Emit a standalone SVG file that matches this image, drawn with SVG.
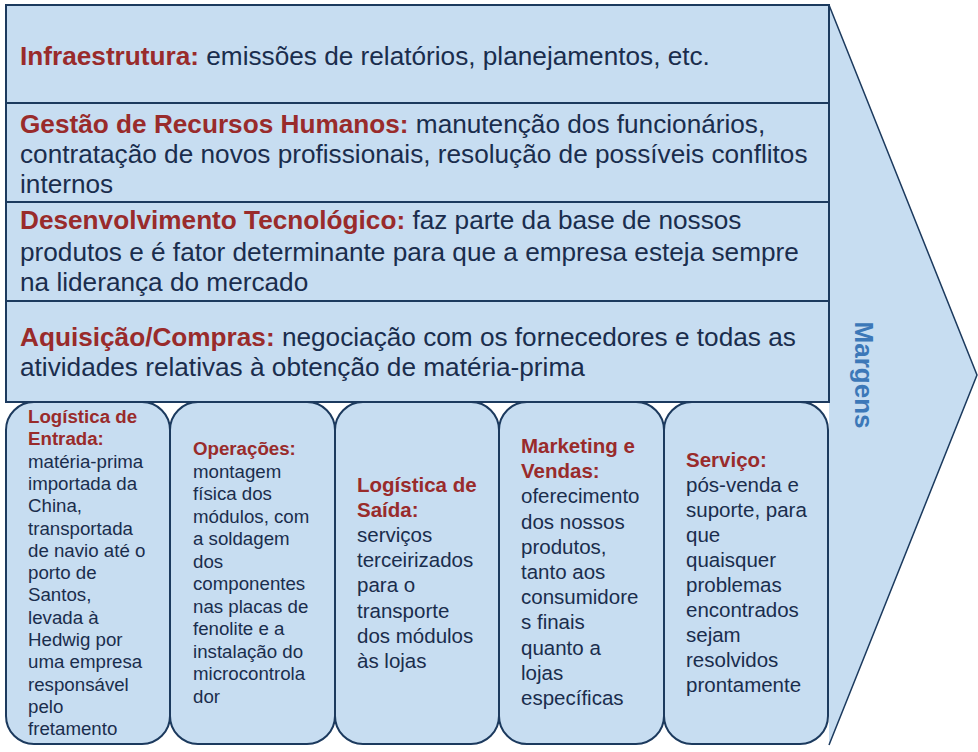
<svg xmlns="http://www.w3.org/2000/svg" width="978" height="752" viewBox="0 0 978 752">
<style>
.box{fill:#c7ddf1;stroke:#1c3a5e;stroke-width:2}
.top{font-family:"Liberation Sans",Arial,sans-serif;font-size:26.2px;fill:#1a2d4d}
.b1{font-family:"Liberation Sans",Arial,sans-serif;font-size:18.7px;fill:#1a2d4d}
.b2{font-family:"Liberation Sans",Arial,sans-serif;font-size:20.5px;fill:#1a2d4d}
.h{font-weight:bold;fill:#992b2b}
.mg{font-family:"Liberation Sans",Arial,sans-serif;font-size:26px;font-weight:bold;fill:#3c78b8}
</style>
<rect width="978" height="752" fill="#ffffff"/>
<g id="arrow">
<polygon points="829,5 977,375 829,745" fill="#c7ddf1" stroke="none"/>
<polyline points="829,5 977,375 829,745" fill="none" stroke="#1c3a5e" stroke-width="1.5"/>
<text class="mg" transform="translate(855,375) rotate(90)" text-anchor="middle">Margens</text>
</g>
<g id="infraestrutura">
<rect class="box" x="6" y="5" width="823" height="98"/>
<text class="top" x="20" y="65"><tspan class="h">Infraestrutura:</tspan> emissões de relatórios, planejamentos, etc.</text>
</g>
<g id="rh">
<rect class="box" x="6" y="103" width="823" height="99"/>
<text class="top" x="20" y="133"><tspan class="h">Gestão de Recursos Humanos:</tspan> manutenção dos funcionários,</text>
<text class="top" x="20" y="163">contratação de novos profissionais, resolução de possíveis conflitos</text>
<text class="top" x="20" y="193">internos</text>
</g>
<g id="tecnologia">
<rect class="box" x="6" y="202" width="823" height="99"/>
<text class="top" x="20" y="229"><tspan class="h">Desenvolvimento Tecnológico:</tspan> faz parte da base de nossos</text>
<text class="top" x="20" y="261">produtos e é fator determinante para que a empresa esteja sempre</text>
<text class="top" x="20" y="291">na liderança do mercado</text>
</g>
<g id="aquisicao">
<rect class="box" x="6" y="301" width="823" height="101"/>
<text class="top" x="20" y="346"><tspan class="h">Aquisição/Compras:</tspan> negociação com os fornecedores e todas as</text>
<text class="top" x="20" y="376">atividades relativas à obtenção de matéria-prima</text>
</g>
<g id="logistica-entrada">
<rect class="box" x="6" y="402" width="164" height="342" rx="28"/>
<text class="b1" x="28" y="423">
<tspan class="h" x="28">Logística de</tspan>
<tspan class="h" x="28" dy="22.3">Entrada:</tspan>
<tspan x="28" dy="22.3">matéria-prima</tspan>
<tspan x="28" dy="22.3">importada da</tspan>
<tspan x="28" dy="22.3">China,</tspan>
<tspan x="28" dy="22.3">transportada</tspan>
<tspan x="28" dy="22.3">de navio até o</tspan>
<tspan x="28" dy="22.3">porto de</tspan>
<tspan x="28" dy="22.3">Santos,</tspan>
<tspan x="28" dy="22.3">levada à</tspan>
<tspan x="28" dy="22.3">Hedwig por</tspan>
<tspan x="28" dy="22.3">uma empresa</tspan>
<tspan x="28" dy="22.3">responsável</tspan>
<tspan x="28" dy="22.3">pelo</tspan>
<tspan x="28" dy="22.3">fretamento</tspan>
</text>
</g>
<g id="operacoes">
<rect class="box" x="170" y="402" width="165" height="342" rx="28"/>
<text class="b1" x="193" y="455">
<tspan class="h" x="193">Operações:</tspan>
<tspan x="193" dy="22.5">montagem</tspan>
<tspan x="193" dy="22.5">física dos</tspan>
<tspan x="193" dy="22.5">módulos, com</tspan>
<tspan x="193" dy="22.5">a soldagem</tspan>
<tspan x="193" dy="22.5">dos</tspan>
<tspan x="193" dy="22.5">componentes</tspan>
<tspan x="193" dy="22.5">nas placas de</tspan>
<tspan x="193" dy="22.5">fenolite e a</tspan>
<tspan x="193" dy="22.5">instalação do</tspan>
<tspan x="193" dy="22.5">microcontrola</tspan>
<tspan x="193" dy="22.5">dor</tspan>
</text>
</g>
<g id="logistica-saida">
<rect class="box" x="335" y="402" width="164" height="342" rx="28"/>
<text class="b2" x="357" y="492">
<tspan class="h" x="357">Logística de</tspan>
<tspan class="h" x="357" dy="25.1">Saída:</tspan>
<tspan x="357" dy="25.1">serviços</tspan>
<tspan x="357" dy="25.1">terceirizados</tspan>
<tspan x="357" dy="25.1">para o</tspan>
<tspan x="357" dy="25.1">transporte</tspan>
<tspan x="357" dy="25.1">dos módulos</tspan>
<tspan x="357" dy="25.1">às lojas</tspan>
</text>
</g>
<g id="marketing">
<rect class="box" x="499" y="402" width="165" height="342" rx="28"/>
<text class="b2" x="521" y="453">
<tspan class="h" x="521">Marketing e</tspan>
<tspan class="h" x="521" dy="25.2">Vendas:</tspan>
<tspan x="521" dy="25.2">oferecimento</tspan>
<tspan x="521" dy="25.2">dos nossos</tspan>
<tspan x="521" dy="25.2">produtos,</tspan>
<tspan x="521" dy="25.2">tanto aos</tspan>
<tspan x="521" dy="25.2">consumidore</tspan>
<tspan x="521" dy="25.2">s finais</tspan>
<tspan x="521" dy="25.2">quanto a</tspan>
<tspan x="521" dy="25.2">lojas</tspan>
<tspan x="521" dy="25.2">específicas</tspan>
</text>
</g>
<g id="servico">
<rect class="box" x="664" y="402" width="164" height="342" rx="28"/>
<text class="b2" x="686" y="467">
<tspan class="h" x="686">Serviço:</tspan>
<tspan x="686" dy="25">pós-venda e</tspan>
<tspan x="686" dy="25">suporte, para</tspan>
<tspan x="686" dy="25">que</tspan>
<tspan x="686" dy="25">quaisquer</tspan>
<tspan x="686" dy="25">problemas</tspan>
<tspan x="686" dy="25">encontrados</tspan>
<tspan x="686" dy="25">sejam</tspan>
<tspan x="686" dy="25">resolvidos</tspan>
<tspan x="686" dy="25">prontamente</tspan>
</text>
</g>
<g id="connectors"></g>
</svg>
